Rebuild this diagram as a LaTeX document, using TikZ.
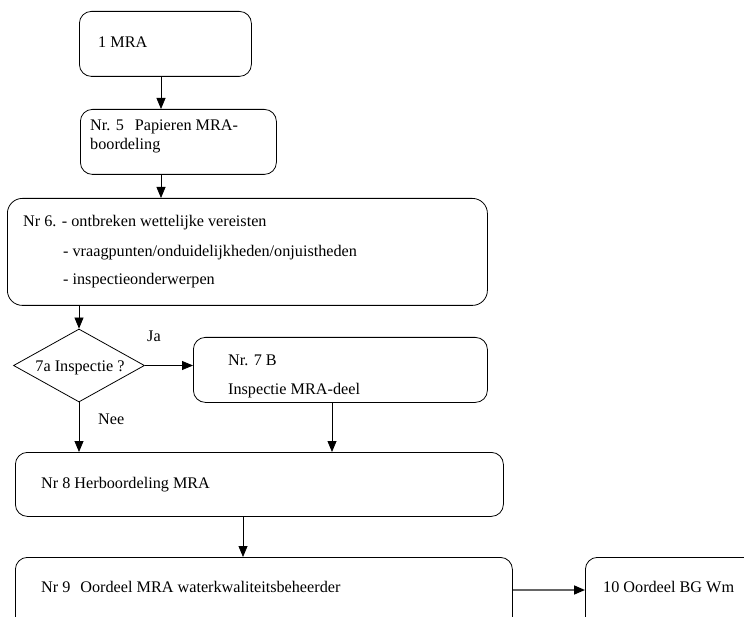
\documentclass[tikz,border=0pt]{standalone}
\usepackage{fontspec}
\setmainfont{Liberation Serif}
\usetikzlibrary{arrows.meta,shapes.geometric}

\tikzset{
  box/.style={draw, line width=0.8pt, rounded corners=12pt, anchor=north west,
              inner sep=0pt, rectangle},
  lbl/.style={anchor=base west, inner sep=0pt,
              font=\fontsize{16.2}{19}\selectfont},
  arr/.style={line width=0.8pt, -{Triangle[length=11pt,width=9pt]}},
  grayarr/.style={line width=1.6pt, draw=black!60,
                  -{Triangle[length=11pt,width=9pt,fill=black,color=black]}},
}

\begin{document}
\begin{tikzpicture}[x=1pt,y=-1pt]
  \useasboundingbox (0,0) rectangle (744,617);

  % boxes
  \node[box, minimum width=172pt, minimum height=65pt] (b1) at (79,11) {};
  \node[box, minimum width=196pt, minimum height=65pt] (b5) at (80,109) {};
  \node[box, rounded corners=15pt, minimum width=480pt, minimum height=107pt] (b6) at (7,198) {};
  \node[draw, diamond, line width=0.8pt, inner sep=0pt,
        minimum width=131pt, minimum height=73pt] (dia) at (79,365.5) {};
  \node[box, minimum width=294pt, minimum height=65pt] (b7) at (193,337) {};
  \node[box, minimum width=488pt, minimum height=64pt] (b8) at (15,452) {};
  \node[box, minimum width=497pt, minimum height=100pt] (b9) at (15,557) {};
  \node[box, minimum width=220pt, minimum height=100pt] (b10) at (585,557) {};

  % box texts
  \node[lbl] (t1) at (98,48) {1 MRA};
  \node[lbl] (t5a) at (90,131) {Nr. 5\hspace{11pt}Papieren MRA-};
  \node[lbl] (t5b) at (90,150) {boordeling};
  \node[lbl] (t6a) at (23,227) {Nr 6. - ontbreken wettelijke vereisten};
  \node[lbl] (t6b) at (63,256.5) {- vraagpunten/onduidelijkheden/onjuistheden};
  \node[lbl] (t6c) at (63,285) {- inspectieonderwerpen};
  \node[lbl, anchor=base] (tdia) at (80,371) {7a Inspectie ?};
  \node[lbl] (t7a) at (228,366) {Nr. 7 B};
  \node[lbl] (t7b) at (228,395) {Inspectie MRA-deel};
  \node[lbl] (t8) at (41,488) {Nr 8 Herboordeling MRA};
  \node[lbl] (t9) at (41,592) {Nr 9\hspace{10pt}Oordeel MRA waterkwaliteitsbeheerder};
  \node[lbl] (t10) at (603,592) {10 Oordeel BG Wm};

  % branch labels
  \node[lbl] (ja) at (147,342) {Ja};
  \node[lbl] (nee) at (98,424) {Nee};

  % columns of the vertical connectors
  \coordinate (c1) at (161,0);
  \coordinate (c7) at (332,0);
  \coordinate (c8) at (243,0);
  \coordinate (r9) at (0,590);

  % connectors
  \draw[arr] (b1.south -| c1) -- (b5.north -| c1);
  \draw[arr] (b5.south -| c1) -- (b6.north -| c1);
  \draw[arr] (b6.south -| dia.north) -- (dia.north);
  \draw[arr] (dia.east) -- (b7.west |- dia.east);
  \draw[arr] (dia.south) -- (b8.north -| dia.south);
  \draw[arr] (b7.south -| c7) -- (b8.north -| c7);
  \draw[arr] (b8.south -| c8) -- (b9.north -| c8);
  \draw[grayarr] (b9.east |- r9) -- (b10.west |- r9);
\end{tikzpicture}
\end{document}
